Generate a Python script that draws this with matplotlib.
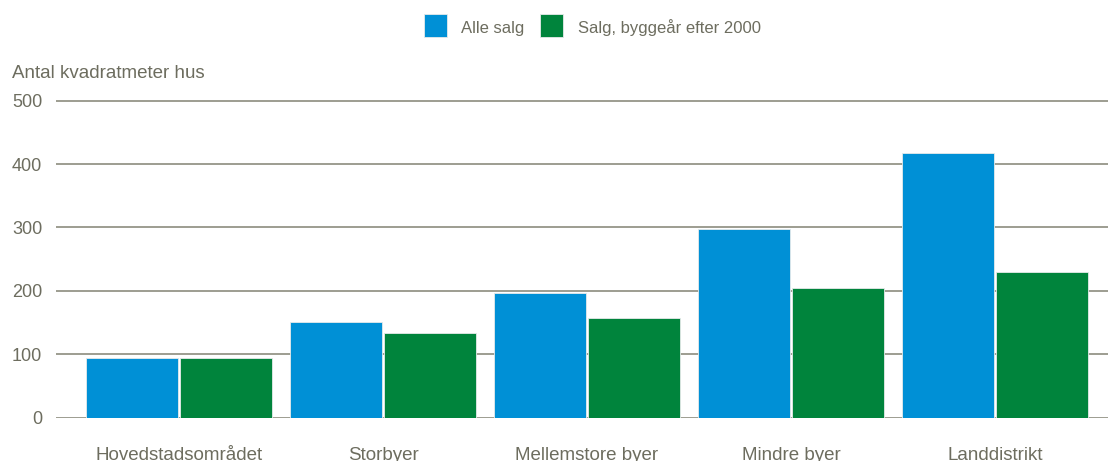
import matplotlib
matplotlib.use("Agg")
import matplotlib.pyplot as plt
from matplotlib.patches import Rectangle
import numpy as np

# Data
categories = ["Hovedstadsområdet", "Storbyer", "Mellemstore byer", "Mindre byer", "Landdistrikt"]
alle_salg = [94, 150, 196, 297, 417]
salg_efter_2000 = [94, 134, 157, 204, 229]
series_names = ["Alle salg", "Salg, byggeår efter 2000"]
y_ticks = [0, 100, 200, 300, 400, 500]
y_title = "Antal kvadratmeter hus"

BLUE = "#0090d6"
GREEN = "#00843c"
TEXT = "#6d6d5f"
GRID = "#8c8c7e"

W, H = 1108, 461
plt.rcParams["font.family"] = ["Liberation Sans", "DejaVu Sans"]

fig = plt.figure(figsize=(W / 100, H / 100), dpi=100)
ax = fig.add_axes([56 / W, 1 - 417.5 / H, 1 - 56 / W, (417.5 - 97.5) / H])

x = np.arange(len(categories))
width = 0.45
off = 0.23
ax.bar(x - off, alle_salg, width, color=BLUE, edgecolor="#e6eaea", linewidth=0.6, zorder=3)
ax.bar(x + off, salg_efter_2000, width, color=GREEN, edgecolor="#e6eaea", linewidth=0.6, zorder=3)

ax.set_xlim(-0.603, 4.554)
ax.set_ylim(0, 505)
ax.set_yticks(y_ticks)
ax.set_xticks(x)
ax.set_xticklabels(categories)
for v in y_ticks:
    ax.axhline(v, color=GRID, linewidth=1.2, zorder=1)

for s in ax.spines.values():
    s.set_visible(False)
ax.tick_params(axis="both", length=0, colors=TEXT)
ax.tick_params(axis="y", pad=10, labelsize=13)
ax.tick_params(axis="x", pad=21, labelsize=13.5)

fig.text(12 / W, 1 - 78 / H, y_title, fontsize=13.5, color=TEXT, va="baseline", ha="left")

# Legend
leg_items = [(424, BLUE, 461, series_names[0]), (540, GREEN, 578, series_names[1])]
for px, col, tx, label in leg_items:
    fig.patches.append(Rectangle((px / W, 1 - 37 / H), 23 / W, 23 / H,
                                 transform=fig.transFigure, facecolor=col,
                                 edgecolor="#e6eaea", linewidth=0.6))
    fig.text(tx / W, 1 - 33.5 / H, label, fontsize=12, color=TEXT, va="baseline", ha="left")

fig.savefig("out.png", dpi=100)
